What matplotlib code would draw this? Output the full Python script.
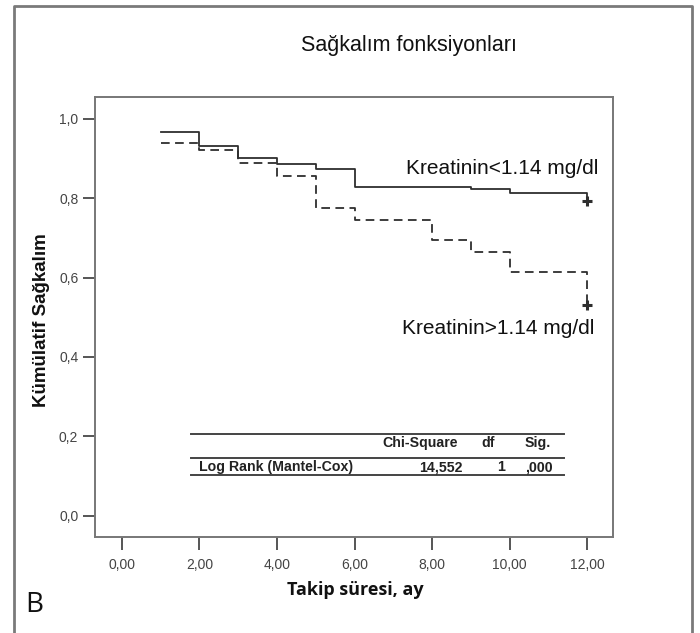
import matplotlib
matplotlib.use("Agg")
import matplotlib.pyplot as plt
from matplotlib.lines import Line2D

# ---- data ----
title = "Sağkalım fonksiyonları"
xlabel = "Takip süresi, ay"
ylabel = "Kümülatif Sağkalım"
panel_label = "B"

xticks = [0, 2, 4, 6, 8, 10, 12]
xtick_labels = ["0,00", "2,00", "4,00", "6,00", "8,00", "10,00", "12,00"]
yticks = [0.0, 0.2, 0.4, 0.6, 0.8, 1.0]
ytick_labels = ["0,0", "0,2", "0,4", "0,6", "0,8", "1,0"]

times_low = [1, 2, 3, 4, 5, 6, 9, 10, 12]
surv_low = [0.966, 0.932, 0.902, 0.885, 0.873, 0.829, 0.823, 0.812, 0.793]
label_low = "Kreatinin<1.14 mg/dl"

times_high = [1, 2, 3, 4, 5, 6, 8, 9, 10, 12]
surv_high = [0.938, 0.921, 0.889, 0.857, 0.774, 0.745, 0.695, 0.664, 0.614, 0.532]
label_high = "Kreatinin>1.14 mg/dl"

table_header = ["Chi-Square", "df", "Sig."]
table_row_label = "Log Rank (Mantel-Cox)"
table_row_values = ["14,552", "1", ",000"]

# ---- figure ----
W, H = 700, 633
fig = plt.figure(figsize=(W / 100, H / 100), dpi=100)

def fx(px):
    return px / W

def fy(py):
    return 1 - py / H

ax_l, ax_r, ax_t, ax_b = 95, 613, 97, 537
ax = fig.add_axes([fx(ax_l), fy(ax_b), fx(ax_r - ax_l), (ax_b - ax_t) / H])

line_col = "#2e2e2e"
ax.step(times_low, surv_low, where="post", color=line_col, lw=1.3)
ax.step(times_high, surv_high, where="post", color=line_col, lw=1.3,
        linestyle=(0, (4.8, 3.0)))
ax.plot([times_low[-1]], [surv_low[-1]], marker="+", color=line_col, ms=7, mew=2.2)
ax.plot([times_high[-1]], [surv_high[-1]], marker="+", color=line_col, ms=7, mew=2.2)

ax.set_xlim(-0.69, 12.66)
ax.set_ylim(-0.054, 1.055)
ax.set_xticks(xticks)
ax.set_xticklabels(xtick_labels)
ax.set_yticks(yticks)
ax.set_yticklabels(ytick_labels)

spine_col = "#777777"
for s in ax.spines.values():
    s.set_color(spine_col)
    s.set_linewidth(1.4)
ax.tick_params(axis="both", direction="out", length=9, width=1.4,
               color="#555555", labelcolor="#444444", labelsize=10,
               labelfontfamily="Liberation Sans")
ax.tick_params(axis="x", pad=6)
ax.tick_params(axis="y", pad=3)

# curve labels
fig.text(fx(598), fy(168), label_low, ha="right", va="center",
         fontsize=15, family="Liberation Sans", color="#111111")
fig.text(fx(594), fy(329), label_high, ha="right", va="center",
         fontsize=15, family="Liberation Sans", color="#111111")

# title & axis labels
fig.text(fx(409), fy(45), title, ha="center", va="center",
         fontsize=15.5, family="Liberation Sans", color="#111111")
fig.text(fx(42), fy(320), ylabel, ha="center", va="center", rotation=90,
         fontsize=13.5, fontweight="bold", family="Liberation Sans", color="#111111")
fig.text(fx(355), fy(590), xlabel, ha="center", va="center",
         fontsize=13, fontweight="bold", family="Open Sans", color="#111111")
fig.text(fx(34), fy(605), panel_label, ha="center", va="center",
         fontsize=20, family="Open Sans", color="#111111")

# log-rank table
tab_col = "#444444"
for py in (434, 458, 475):
    fig.add_artist(Line2D([fx(191), fx(564)], [fy(py), fy(py)],
                          color=tab_col, lw=1.4))
hdr_right = [458, 495, 551]
val_right = [463, 505, 553]
tkw = dict(fontsize=10.2, fontweight="bold", family="Liberation Sans",
           color="#222222", va="center")
for txt, xr in zip(table_header, hdr_right):
    fig.text(fx(xr), fy(443), txt, ha="right", **tkw)
fig.text(fx(199), fy(467), table_row_label, ha="left", **tkw)
for txt, xr in zip(table_row_values, val_right):
    fig.text(fx(xr), fy(467), txt, ha="right", **tkw)

# outer frame
frame_col = "#7a7a7a"
fig.add_artist(Line2D([fx(14), fx(14), fx(692), fx(692)],
                      [fy(640), fy(6), fy(6), fy(640)],
                      color=frame_col, lw=2))

fig.savefig("out.png", dpi=100)
